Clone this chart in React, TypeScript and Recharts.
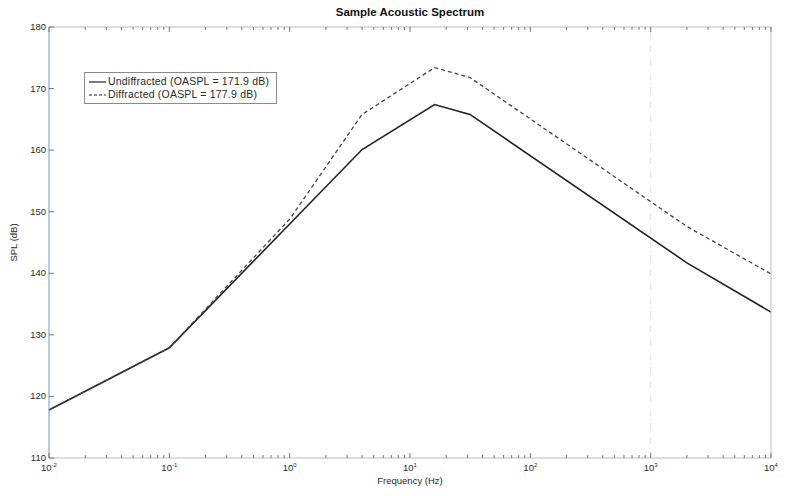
import { LineChart, Line, XAxis, YAxis, ReferenceLine, Label } from 'recharts'

const frequencies = [0.01, 0.1, 1, 4, 16, 31.5, 2000, 10000]
const undiffracted = [117.8, 127.9, 148.0, 160.1, 167.4, 165.8, 141.7, 133.7]
const diffracted = [117.8, 127.9, 148.8, 165.8, 173.4, 171.8, 147.6, 139.9]

const decadeTicks = [0.01, 0.1, 1, 10, 100, 1000, 10000]
const decadeExponents = ['-2', '-1', '0', '1', '2', '3', '4']
const minorSteps = [2, 3, 4, 5, 6, 7, 8, 9]
const splTicks = [110, 120, 130, 140, 150, 160, 170, 180]

const seriesNames = ['Undiffracted (OASPL = 171.9 dB)', 'Diffracted (OASPL = 177.9 dB)']

const data = frequencies.map((f, i) => ({ f, undiff: undiffracted[i], diff: diffracted[i] }))

const xTicks = [
  ...decadeTicks,
  ...decadeTicks.slice(0, -1).flatMap(d => minorSteps.map(m => +(d * m).toPrecision(3))),
].sort((a, b) => a - b)

const FONT = 'Arial, "Liberation Sans", sans-serif'
const TEXT = '#2a2a2a'
const TICK = '#777'

function XTick({ x, y, payload, side }: any) {
  const idx = decadeTicks.findIndex(d => Math.abs(d - payload.value) < 1e-9)
  const major = idx >= 0
  const len = major ? 5 : 3
  const dir = side === 'top' ? 1 : -1
  return (
    <g>
      <line x1={x} y1={y} x2={x} y2={y + dir * len} stroke={TICK} strokeWidth={1} />
      {major && side === 'bottom' && (
        <text x={x} y={y + 13} textAnchor="middle" fontSize={9.5} fill={TEXT} fontFamily={FONT}>
          10<tspan dy={-4} fontSize={6}>{decadeExponents[idx]}</tspan>
        </text>
      )}
    </g>
  )
}

function YTick({ x, y, payload, side }: any) {
  const dir = side === 'left' ? 1 : -1
  return (
    <g>
      <line x1={x} y1={y} x2={x + dir * 5} y2={y} stroke={TICK} strokeWidth={1} />
      {side === 'left' && (
        <text x={x - 3} y={y + 3} textAnchor="end" fontSize={9.5} fill={TEXT} fontFamily={FONT}>
          {payload.value}
        </text>
      )}
    </g>
  )
}

function LegendBox() {
  return (
    <div style={{ position: 'absolute', left: 84, top: 72, width: 184, border: '1px solid #8a8a8a', background: '#fff', padding: '2px 4px 2px 3px', fontFamily: FONT, fontSize: 10.5, letterSpacing: 0.2, color: TEXT, lineHeight: '13px' }}>
      {seriesNames.map((name, i) => (
        <div key={name} style={{ display: 'flex', alignItems: 'center', whiteSpace: 'nowrap' }}>
          <svg width={19} height={8} style={{ marginRight: 1 }}>
            <line x1={1} y1={4} x2={18} y2={4} stroke="#222" strokeWidth={1.2} strokeDasharray={i === 1 ? '3 2' : undefined} />
          </svg>
          {name}
        </div>
      ))}
    </div>
  )
}

export default function App() {
  return (
    <div style={{ position: 'absolute', left: 0, top: 0, width: 786, height: 496, background: '#fff' }}>
      <div style={{ position: 'absolute', left: 49, width: 722, top: 6, textAlign: 'center', fontFamily: FONT, fontWeight: 'bold', fontSize: 11.5, color: '#111' }}>
        Sample Acoustic Spectrum
      </div>
      <LineChart width={786} height={496} data={data} margin={{ top: 26, right: 14, bottom: 0, left: 0 }}>
        <XAxis
          xAxisId="bottom"
          dataKey="f"
          type="number"
          scale="log"
          domain={[0.01, 10000]}
          ticks={xTicks}
          interval={0}
          height={38}
          tickSize={0}
          tickMargin={0}
          tickLine={false}
          axisLine={{ stroke: '#bbb' }}
          tick={<XTick side="bottom" />}
        >
          <Label
            content={({ viewBox }: any) => (
              <text x={viewBox.x + viewBox.width / 2} y={viewBox.y + 26} textAnchor="middle" fontSize={9.5} fill={TEXT} fontFamily={FONT}>
                Frequency (Hz)
              </text>
            )}
          />
        </XAxis>
        <XAxis
          xAxisId="top"
          orientation="top"
          dataKey="f"
          type="number"
          scale="log"
          domain={[0.01, 10000]}
          ticks={xTicks}
          interval={0}
          height={1}
          tickSize={0}
          tickMargin={0}
          tickLine={false}
          axisLine={{ stroke: '#bbb' }}
          tick={<XTick side="top" />}
        />
        <YAxis
          yAxisId="left"
          type="number"
          domain={[110, 180]}
          ticks={splTicks}
          interval={0}
          width={49}
          tickSize={0}
          tickMargin={0}
          tickLine={false}
          axisLine={{ stroke: '#7f8fd0' }}
          tick={<YTick side="left" />}
        >
          <Label
            content={({ viewBox }: any) => {
              const cx = viewBox.x + 17
              const cy = viewBox.y + viewBox.height / 2
              return (
                <text x={cx} y={cy} transform={`rotate(-90 ${cx} ${cy})`} textAnchor="middle" fontSize={9.5} fill={TEXT} fontFamily={FONT}>
                  SPL (dB)
                </text>
              )
            }}
          />
        </YAxis>
        <YAxis
          yAxisId="right"
          orientation="right"
          type="number"
          domain={[110, 180]}
          ticks={splTicks}
          interval={0}
          width={1}
          tickSize={0}
          tickMargin={0}
          tickLine={false}
          axisLine={{ stroke: '#bbb' }}
          tick={<YTick side="right" />}
        />
        <ReferenceLine xAxisId="bottom" yAxisId="left" x={1000} stroke="#e2e6e2" strokeDasharray="7 3 1 3" />
        <Line
          xAxisId="bottom"
          yAxisId="left"
          dataKey="undiff"
          name={seriesNames[0]}
          stroke="#222"
          strokeWidth={1.6}
          dot={false}
          isAnimationActive={false}
        />
        <Line
          xAxisId="bottom"
          yAxisId="left"
          dataKey="diff"
          name={seriesNames[1]}
          stroke="#444"
          strokeWidth={1.3}
          strokeDasharray="4 3"
          dot={false}
          isAnimationActive={false}
        />
      </LineChart>
      <LegendBox />
    </div>
  )
}
